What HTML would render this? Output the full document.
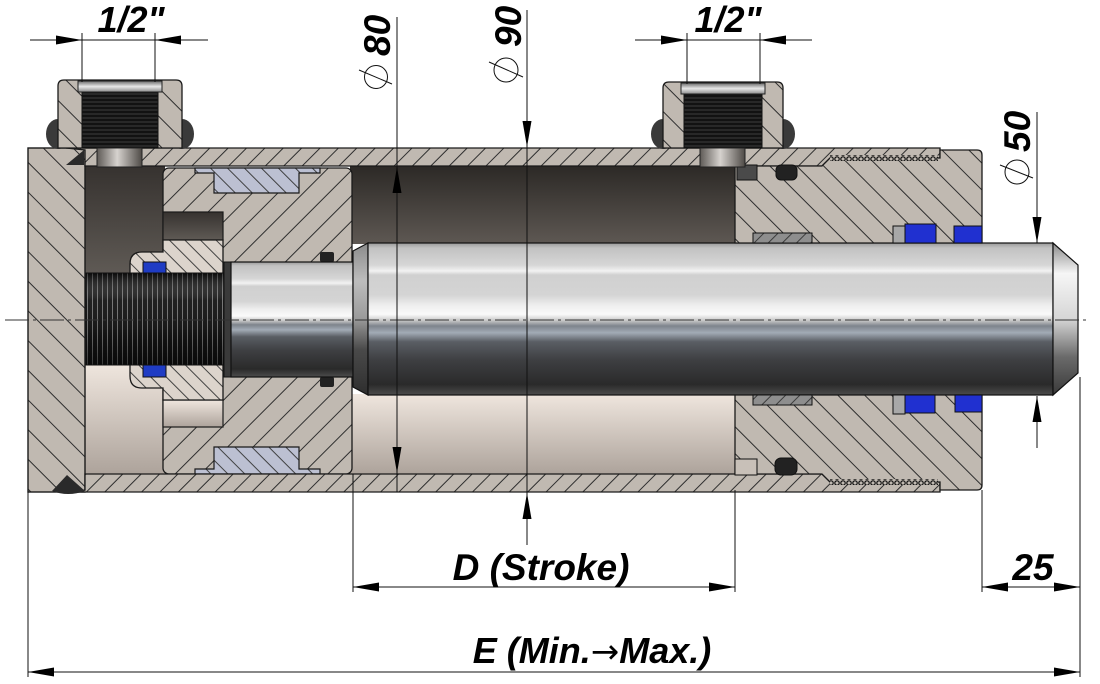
<!DOCTYPE html>
<html><head><meta charset="utf-8"><style>
html,body{margin:0;padding:0;background:#fff;}
svg{display:block;}
text{font-family:"Liberation Sans",Arial,sans-serif;font-weight:bold;font-style:italic;fill:#000;}
</style></head><body>
<svg width="1100" height="684" viewBox="0 0 1100 684" xmlns="http://www.w3.org/2000/svg">
<defs>
 <pattern id="capH" width="21" height="21" patternUnits="userSpaceOnUse" patternTransform="rotate(-45)"><rect width="21" height="21" fill="#c0b9b1"/><line x1="10" y1="0" x2="10" y2="21" stroke="#2e2e2e" stroke-width="1"/></pattern>
 <pattern id="tubeH" width="13" height="13" patternUnits="userSpaceOnUse" patternTransform="rotate(45)"><rect width="13" height="13" fill="#c0b9b1"/><line x1="6" y1="0" x2="6" y2="13" stroke="#2e2e2e" stroke-width="1"/></pattern>
 <pattern id="pisH" width="18" height="18" patternUnits="userSpaceOnUse" patternTransform="rotate(45)"><rect width="18" height="18" fill="#c0b9b1"/><line x1="9" y1="0" x2="9" y2="18" stroke="#2e2e2e" stroke-width="1"/></pattern>
 <pattern id="headH" width="19" height="19" patternUnits="userSpaceOnUse" patternTransform="rotate(-45)"><rect width="19" height="19" fill="#c0b9b1"/><line x1="9" y1="0" x2="9" y2="19" stroke="#2e2e2e" stroke-width="1"/></pattern>
 <pattern id="nutH" width="11" height="11" patternUnits="userSpaceOnUse" patternTransform="rotate(-45)"><rect width="11" height="11" fill="#dcd4cc"/><line x1="5" y1="0" x2="5" y2="11" stroke="#333" stroke-width="0.9"/></pattern>
 <pattern id="bossH" width="20" height="20" patternUnits="userSpaceOnUse" patternTransform="rotate(-45)"><rect width="20" height="20" fill="#c0b9b1"/><line x1="10" y1="0" x2="10" y2="20" stroke="#2e2e2e" stroke-width="1"/></pattern>
 <pattern id="sealH" width="12" height="12" patternUnits="userSpaceOnUse" patternTransform="rotate(-45)"><rect width="12" height="12" fill="#bcc0d2"/><line x1="6" y1="0" x2="6" y2="12" stroke="#333" stroke-width="0.9"/></pattern>
 <pattern id="bushH" width="10" height="10" patternUnits="userSpaceOnUse" patternTransform="rotate(45)"><rect width="10" height="10" fill="#8e8e8e"/><line x1="5" y1="0" x2="5" y2="10" stroke="#333" stroke-width="0.9"/></pattern>
 <pattern id="pthr" width="8" height="4" patternUnits="userSpaceOnUse"><rect width="8" height="4" fill="#121212"/><line x1="0" y1="2" x2="8" y2="2" stroke="#4a4a4a" stroke-width="0.8"/></pattern>
 <pattern id="rthr" width="5" height="10" patternUnits="userSpaceOnUse"><rect width="5" height="10" fill="#141414"/><line x1="2.5" y1="0" x2="2.5" y2="10" stroke="#707070" stroke-width="1"/></pattern>
 <pattern id="tthr" width="6" height="6" patternUnits="userSpaceOnUse"><rect width="6" height="6" fill="#c0b9b1"/><circle cx="3" cy="3" r="2.2" fill="none" stroke="#111" stroke-width="1.2"/></pattern>
 <linearGradient id="darkTop" x1="0" y1="0" x2="0" y2="1"><stop offset="0" stop-color="#2c2926"/><stop offset="1" stop-color="#5e5853"/></linearGradient>
 <linearGradient id="lightBot" x1="0" y1="0" x2="0" y2="1"><stop offset="0" stop-color="#efe6de"/><stop offset="1" stop-color="#ada39b"/></linearGradient>
 <linearGradient id="leftDark" x1="0" y1="0" x2="0" y2="1"><stop offset="0" stop-color="#36322f"/><stop offset="1" stop-color="#5f5a55"/></linearGradient>
 <linearGradient id="rodG" x1="0" y1="0" x2="0" y2="1">
  <stop offset="0" stop-color="#9a9a9a"/><stop offset="0.033" stop-color="#c2c2c2"/><stop offset="0.145" stop-color="#d6d6d6"/>
  <stop offset="0.184" stop-color="#f2f2f2"/><stop offset="0.21" stop-color="#d0d0d0"/><stop offset="0.34" stop-color="#d4d4d4"/>
  <stop offset="0.41" stop-color="#eeeeee"/><stop offset="0.47" stop-color="#fafafa"/><stop offset="0.51" stop-color="#c8c8c8"/>
  <stop offset="0.546" stop-color="#7e848c"/><stop offset="0.59" stop-color="#a2abb6"/><stop offset="0.65" stop-color="#5a5e64"/>
  <stop offset="0.77" stop-color="#3e3f42"/><stop offset="0.93" stop-color="#2a2a2a"/><stop offset="1" stop-color="#4c4c4c"/>
 </linearGradient>
 <linearGradient id="chamG" x1="0" y1="0" x2="0" y2="1"><stop offset="0" stop-color="#8a8a8a"/><stop offset="0.25" stop-color="#bdbdbd"/><stop offset="0.5" stop-color="#9a9a9a"/><stop offset="0.7" stop-color="#4a4a4a"/><stop offset="1" stop-color="#2e2e2e"/></linearGradient>
 <linearGradient id="chamR" x1="0" y1="0" x2="0" y2="1"><stop offset="0" stop-color="#8a8a8a"/><stop offset="0.2" stop-color="#f6f6f6"/><stop offset="0.5" stop-color="#d6d6d6"/><stop offset="0.75" stop-color="#6a6a6a"/><stop offset="1" stop-color="#3a3a3a"/></linearGradient>
 <linearGradient id="holeG" x1="0" y1="0" x2="1" y2="0"><stop offset="0" stop-color="#5e5a56"/><stop offset="0.45" stop-color="#d6d2ce"/><stop offset="1" stop-color="#4e4a46"/></linearGradient>
 <linearGradient id="lipG" x1="0" y1="0" x2="0" y2="1"><stop offset="0" stop-color="#6a6a6a"/><stop offset="0.5" stop-color="#e8e8e8"/><stop offset="1" stop-color="#8a8a8a"/></linearGradient>
 <linearGradient id="thrShade" x1="0" y1="0" x2="0" y2="1"><stop offset="0" stop-color="#000" stop-opacity="0.5"/><stop offset="0.3" stop-color="#fff" stop-opacity="0.05"/><stop offset="0.7" stop-color="#000" stop-opacity="0.1"/><stop offset="1" stop-color="#000" stop-opacity="0.5"/></linearGradient>
</defs>

<rect width="1100" height="684" fill="#fff"/>

<!-- chambers -->
<rect x="85" y="166" width="80" height="108" fill="url(#leftDark)"/>
<rect x="85" y="364" width="80" height="110" fill="url(#lightBot)"/>
<rect x="350" y="166" width="387" height="78" fill="url(#darkTop)"/>
<rect x="350" y="394" width="387" height="80" fill="url(#lightBot)"/>

<!-- piston -->
<rect x="163" y="168" width="189" height="306" rx="6" fill="url(#pisH)" stroke="#1a1a1a" stroke-width="1.3"/>
<rect x="163" y="212" width="60" height="28" fill="url(#leftDark)" stroke="#1a1a1a" stroke-width="1.2"/>
<rect x="163" y="400" width="60" height="27" fill="url(#lightBot)" stroke="#1a1a1a" stroke-width="1.2"/>
<!-- piston seals -->
<path d="M195,168 L320,168 L320,173 L299,173 L299,193 L214,193 L214,173 L195,173 Z" fill="url(#sealH)" stroke="#1a1a1a" stroke-width="1.2"/>
<path d="M195,474 L320,474 L320,469 L299,469 L299,447 L214,447 L214,469 L195,469 Z" fill="url(#sealH)" stroke="#1a1a1a" stroke-width="1.2"/>
<rect x="320" y="252" width="14" height="10" rx="2" fill="#222"/>
<rect x="320" y="377" width="14" height="10" rx="2" fill="#222"/>

<!-- nut -->
<path d="M163,240 L223,240 L223,400 L163,400 L163,388 L142,388 Q130,388 130,376 L130,264 Q130,252 142,252 L163,252 Z" fill="url(#nutH)" stroke="#1a1a1a" stroke-width="1.3"/>
<rect x="143" y="262" width="23" height="13" fill="#1f3cc4" stroke="#111" stroke-width="1"/>
<rect x="143" y="364" width="23" height="13" fill="#1f3cc4" stroke="#111" stroke-width="1"/>

<!-- threaded rod end -->
<rect x="86" y="273" width="142" height="92" fill="url(#rthr)"/>
<rect x="86" y="273" width="142" height="92" fill="url(#thrShade)" stroke="#111" stroke-width="1"/>

<!-- rod small section -->
<rect x="224" y="262" width="8" height="115" fill="#3a3a3a" stroke="#111" stroke-width="1"/>
<rect x="231" y="262" width="122" height="115" fill="url(#rodG)" stroke="#111" stroke-width="1.2"/>

<!-- main rod -->
<polygon points="353,251 368,243 368,395 353,387" fill="url(#chamG)" stroke="#111" stroke-width="1.2"/>
<rect x="368" y="243" width="685" height="152" fill="url(#rodG)" stroke="#111" stroke-width="1.2"/>
<polygon points="1053,243 1078,265 1078,373 1053,395" fill="url(#chamR)" stroke="#111" stroke-width="1.2"/>

<!-- left cap -->
<rect x="28" y="148" width="57" height="344" fill="url(#capH)" stroke="#1a1a1a" stroke-width="1.4"/>

<!-- tube -->
<path d="M66,148 L940,148 L940,158 L830,158 L822,166 L85,166 L85,150 Z" fill="url(#tubeH)" stroke="#1a1a1a" stroke-width="1.3"/>
<path d="M66,492 L940,492 L940,482 L830,482 L822,474 L85,474 L85,490 Z" fill="url(#tubeH)" stroke="#1a1a1a" stroke-width="1.3"/>

<!-- head -->
<path d="M735,166 L822,166 L830,158 L940,158 L940,150 L977,150 Q982,150 982,155 L982,243 L735,243 Z" fill="url(#headH)" stroke="#1a1a1a" stroke-width="1.3"/>
<path d="M735,395 L982,395 L982,485 Q982,490 977,490 L940,490 L940,482 L830,482 L822,474 L735,474 Z" fill="url(#headH)" stroke="#1a1a1a" stroke-width="1.3"/>
<rect x="830" y="155" width="108" height="6" fill="url(#tthr)"/>
<rect x="830" y="479" width="108" height="6" fill="url(#tthr)"/>

<!-- head seals -->
<rect x="737" y="165" width="20" height="15" fill="#4a4a4a" stroke="#111" stroke-width="1"/>
<rect x="776" y="165" width="21" height="15" rx="5" fill="#222" stroke="#111" stroke-width="1"/>
<rect x="735" y="459" width="22" height="16" fill="#c8c0b8" stroke="#111" stroke-width="1"/>
<rect x="775" y="458" width="22" height="17" rx="6" fill="#222" stroke="#111" stroke-width="1"/>
<rect x="753" y="233" width="59" height="10" fill="url(#bushH)" stroke="#111" stroke-width="1"/>
<rect x="753" y="395" width="59" height="10" fill="url(#bushH)" stroke="#111" stroke-width="1"/>
<rect x="893" y="226" width="12" height="17" fill="#a8a8a8" stroke="#111" stroke-width="1"/>
<rect x="905" y="224" width="31" height="19" fill="#2030d0" stroke="#111" stroke-width="1"/>
<rect x="893" y="395" width="12" height="19" fill="#a8a8a8" stroke="#111" stroke-width="1"/>
<rect x="905" y="395" width="30" height="18" fill="#2030d0" stroke="#111" stroke-width="1"/>
<rect x="954" y="226" width="28" height="17" fill="#2030d0" stroke="#111" stroke-width="1"/>
<rect x="955" y="395" width="27" height="17" fill="#2030d0" stroke="#111" stroke-width="1"/>

<!-- welds -->
<polygon points="66,165 84,150 84,165" fill="#2a2a2a"/>
<path d="M52,491 L67,475 L85,491 Q68,497 52,491 Z" fill="#2a2a2a"/>

<!-- left port -->
<ellipse cx="58" cy="134" rx="12" ry="15" fill="#3a3a3a"/>
<ellipse cx="182" cy="134" rx="12" ry="15" fill="#3a3a3a"/>
<path d="M58,148 L58,86 Q58,80 64,80 L176,80 Q182,80 182,86 L182,148 Z" fill="url(#bossH)" stroke="#1a1a1a" stroke-width="1.3"/>
<rect x="82" y="92" width="76" height="56" fill="url(#pthr)" stroke="#111" stroke-width="1"/>
<rect x="78" y="81" width="84" height="11" fill="url(#lipG)" stroke="#222" stroke-width="1"/>
<rect x="97" y="148" width="45" height="19" fill="url(#holeG)" stroke="#222" stroke-width="1"/>

<!-- right port -->
<ellipse cx="663" cy="134" rx="12" ry="15" fill="#3a3a3a"/>
<ellipse cx="783" cy="134" rx="12" ry="15" fill="#3a3a3a"/>
<path d="M663,148 L663,88 Q663,82 669,82 L777,82 Q783,82 783,88 L783,148 Z" fill="url(#bossH)" stroke="#1a1a1a" stroke-width="1.3"/>
<rect x="684" y="94" width="78" height="54" fill="url(#pthr)" stroke="#111" stroke-width="1"/>
<rect x="681" y="83" width="84" height="11" fill="url(#lipG)" stroke="#222" stroke-width="1"/>
<rect x="700" y="148" width="45" height="19" fill="url(#holeG)" stroke="#222" stroke-width="1"/>

<!-- centerline -->
<line x1="5" y1="320" x2="1090" y2="320" stroke="#333" stroke-width="1" stroke-dasharray="24 4 3 4"/>

<!-- dimension lines -->
<g stroke="#111" stroke-width="1" fill="none">
 <line x1="30" y1="40" x2="208" y2="40"/>
 <line x1="82" y1="33" x2="82" y2="82"/>
 <line x1="155" y1="33" x2="155" y2="82"/>
 <line x1="635" y1="40" x2="812" y2="40"/>
 <line x1="687" y1="33" x2="687" y2="84"/>
 <line x1="760" y1="33" x2="760" y2="84"/>
 <line x1="397" y1="17" x2="397" y2="492"/>
 <line x1="527" y1="10" x2="527" y2="545"/>
 <line x1="1037" y1="112" x2="1037" y2="243"/>
 <line x1="1037" y1="396" x2="1037" y2="448"/>
 <line x1="353" y1="474" x2="353" y2="592"/>
 <line x1="735" y1="490" x2="735" y2="592"/>
 <line x1="982" y1="490" x2="982" y2="592"/>
 <line x1="1080" y1="377" x2="1080" y2="677"/>
 <line x1="28" y1="492" x2="28" y2="677"/>
 <line x1="353" y1="587" x2="735" y2="587"/>
 <line x1="982" y1="587" x2="1080" y2="587"/>
 <line x1="28" y1="672" x2="1080" y2="672"/>
 <circle cx="376" cy="77" r="11.5"/>
 <line x1="359" y1="70" x2="392" y2="84"/>
 <circle cx="506" cy="70" r="12"/>
 <line x1="489" y1="62" x2="523" y2="77"/>
 <circle cx="1017" cy="172" r="12"/>
 <line x1="1000" y1="165" x2="1033" y2="178"/>
</g>
<g fill="#000">
 <polygon points="82,40 56,35.5 56,44.5"/>
 <polygon points="155,40 181,35.5 181,44.5"/>
 <polygon points="687,40 661,35.5 661,44.5"/>
 <polygon points="760,40 786,35.5 786,44.5"/>
 <polygon points="397,167 392.5,193 401.5,193"/>
 <polygon points="397,473 392.5,447 401.5,447"/>
 <polygon points="527,147 522.5,121 531.5,121"/>
 <polygon points="527,493 522.5,519 531.5,519"/>
 <polygon points="1037,243 1032.5,217 1041.5,217"/>
 <polygon points="1037,396 1032.5,422 1041.5,422"/>
 <polygon points="353,587 379,582.5 379,591.5"/>
 <polygon points="735,587 709,582.5 709,591.5"/>
 <polygon points="982,587 1008,582.5 1008,591.5"/>
 <polygon points="1080,587 1054,582.5 1054,591.5"/>
 <polygon points="28,672 54,667.5 54,676.5"/>
 <polygon points="1080,672 1054,667.5 1054,676.5"/>
</g>

<!-- labels -->
<text x="131" y="32" font-size="36" text-anchor="middle">1/2"</text>
<text x="728" y="32" font-size="36" text-anchor="middle">1/2"</text>
<text transform="translate(390,56) rotate(-90)" font-size="37">80</text>
<text transform="translate(521,47) rotate(-90)" font-size="37">90</text>
<text transform="translate(1030,152) rotate(-90)" font-size="37">50</text>
<text x="541" y="580" font-size="37" text-anchor="middle">D (Stroke)</text>
<text x="1033" y="580" font-size="37" text-anchor="middle">25</text>
<text x="592" y="663" font-size="36" text-anchor="middle">E (Min.<tspan font-family="DejaVu Sans, sans-serif" font-weight="normal" font-style="normal" font-size="34">→</tspan>Max.)</text>
</svg>
</body></html>
